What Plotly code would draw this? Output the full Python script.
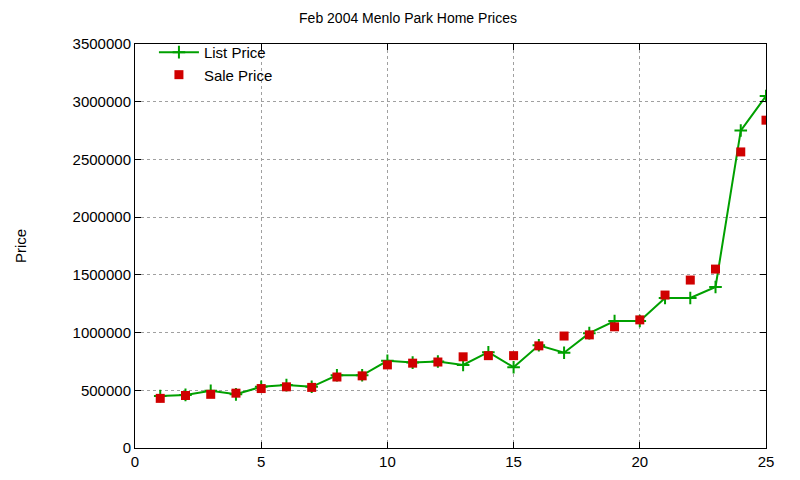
import plotly.graph_objects as go

# Data
house = list(range(1, 26))
list_price = [450000, 460000, 495000, 465000, 530000, 545000, 530000, 630000, 630000, 755000,
              740000, 750000, 720000, 830000, 700000, 890000, 825000, 995000, 1100000, 1100000,
              1300000, 1300000, 1395000, 2750000, 3050000]
sale_price = [430000, 455000, 465000, 475000, 515000, 530000, 525000, 615000, 625000, 720000,
              735000, 745000, 790000, 800000, 800000, 885000, 970000, 980000, 1050000, 1110000,
              1325000, 1455000, 1550000, 2565000, 2840000]

fig = go.Figure()
fig.add_trace(go.Scatter(x=house, y=list_price, name='List Price', mode='lines+markers',
                         line=dict(color='#00a000', width=2),
                         marker=dict(symbol='cross-thin', size=9, line=dict(color='#00a000', width=2))))
fig.add_trace(go.Scatter(x=house, y=sale_price, name='Sale Price', mode='markers',
                         marker=dict(symbol='square', size=9, color='#d00000')))

axis = dict(showline=True, linecolor='black', linewidth=1, mirror='ticks', ticks='inside',
            ticklen=6, tickcolor='black', showgrid=True, gridcolor='#a0a0a0', griddash='dot',
            zeroline=False, tickfont=dict(size=15, color='black'))
fig.update_layout(
    width=800, height=480,
    title=dict(text='Feb 2004 Menlo Park Home Prices', x=0.5, y=0.99, xanchor='center',
               font=dict(size=14, color='black')),
    font=dict(family='Liberation Sans, Arial, sans-serif'),
    plot_bgcolor='white', paper_bgcolor='white',
    margin=dict(l=112, r=42, t=36, b=40),
    xaxis=dict(axis, range=[0, 25], dtick=5),
    yaxis=dict(axis, range=[0, 3500000], dtick=500000, tickformat='d',
               title=dict(text='Price', font=dict(size=15, color='black'), standoff=42)),
    legend=dict(x=0.03, y=1.02, xanchor='left', yanchor='top', bgcolor='rgba(0,0,0,0)',
                font=dict(size=15, color='black'), tracegroupgap=0, itemwidth=40),
)

fig.write_html("out.html")
